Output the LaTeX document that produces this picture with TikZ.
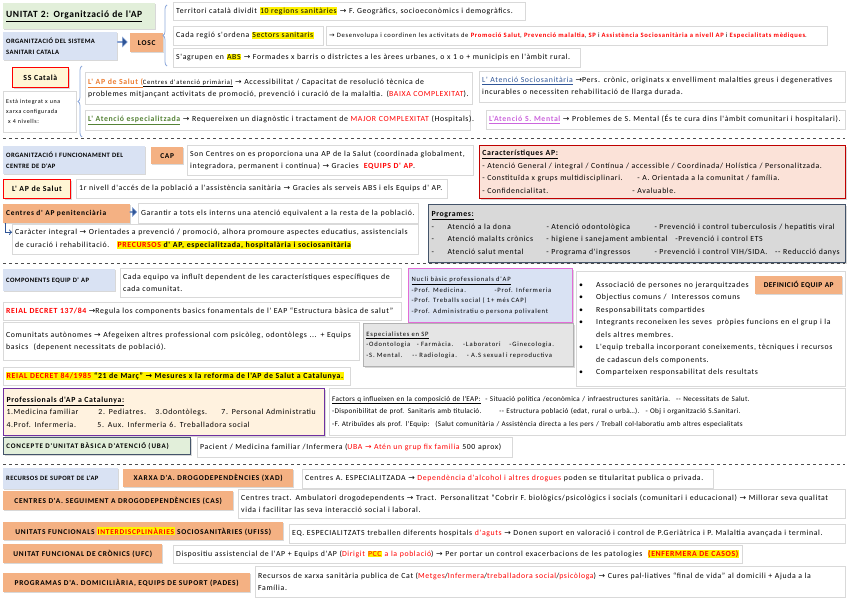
\documentclass[tikz,border=0pt]{standalone}
\usepackage{fontspec}
\setmainfont{Carlito}
\newfontfamily\symfont{DejaVu Sans}
\newfontfamily\lsmain{Carlito}[LetterSpace=8]
\newfontfamily\lswide{Carlito}[LetterSpace=10]
\newfontfamily\lscaps{Carlito}[LetterSpace=6]
\newfontfamily\lsnuc{Carlito}[LetterSpace=12]
\newfontfamily\lsfac{Carlito}[LetterSpace=4]
\usetikzlibrary{shadows,shapes.arrows,decorations.pathreplacing}

\definecolor{orangeF}{HTML}{F4B183}
\definecolor{blueF}{HTML}{D9E2F3}
\definecolor{greenF}{HTML}{E2EFDA}
\definecolor{yellowF}{HTML}{FFF6D5}
\definecolor{pinkF}{HTML}{FBE2D8}
\definecolor{grayF}{HTML}{D9D9D9}
\definecolor{slate}{HTML}{44546A}
\definecolor{darkblue}{HTML}{2F5597}
\definecolor{bracecol}{HTML}{8FAADC}
\definecolor{aporange}{HTML}{ED7D31}
\definecolor{apgreen}{HTML}{548235}
\definecolor{apblue}{HTML}{2F5597}
\definecolor{appink}{HTML}{CC66DD}
\definecolor{magentaB}{HTML}{E36CD6}
\definecolor{purpleB}{HTML}{7030A0}

\newcommand\fmain{\lsmain\fontsize{7.8}{12.5}\selectfont}
\newcommand\fsmall{\lswide\fontsize{6.6}{9}\selectfont}
\newcommand\fcap{\lscaps\fontsize{6.6}{11}\selectfont\bfseries}
\newcommand\fhdr{\lswide\fontsize{7.4}{9}\selectfont\bfseries}
\newcommand\ftiny{\lswide\fontsize{6}{10}\selectfont}
\newcommand\fnuc{\lsnuc\fontsize{6.6}{10.5}\selectfont}
\newcommand\ffac{\lsfac\fontsize{7.2}{12.5}\selectfont}
\newcommand\toarr{{\symfont →}}
\newcommand\rd[1]{\textcolor{red}{#1}}
\newcommand\hlt[1]{{\setlength{\fboxsep}{0.5pt}\colorbox{yellow}{#1}}}

\begin{document}
\begin{tikzpicture}[
    x=1pt, y=-1pt,
    box/.style={rectangle, anchor=north west, inner xsep=3pt, inner ysep=1pt, align=left, font=\fmain,
        drop shadow={shadow xshift=1.2pt, shadow yshift=-1.2pt, opacity=.3}},
    wbox/.style={box, draw=black!15, fill=white},
    obox/.style={box, fill=orangeF, font=\fhdr, align=center},
    bbox/.style={box, fill=blueF, font=\fcap},
    ybox/.style={box, fill=yellowF, draw=red, line width=.8pt, font=\fmain\bfseries, align=center},
    dims/.style 2 args={text width=#1pt, minimum height=#2pt},
    barrow/.style={single arrow, fill=darkblue, draw=bracecol, inner sep=0pt, single arrow head extend=1.5pt},
    brc/.style={decorate, decoration={brace, amplitude=4pt}, draw=bracecol, line width=.8pt},
    sep/.style={dashed, draw=black!70, line width=.6pt}
]
\fill[white] (0,0) rectangle (848,599);
\useasboundingbox (0,0) rectangle (848,599);

% --- organitzacio del sistema
\node (title) [box, fill=greenF, dims={146}{26}, font=\lscaps\fontsize{9.5}{10}\selectfont\bfseries] at (3,3) {\underline{UNITAT 2: Organització de l'AP}};
\node (orgss) [bbox, dims={108}{28}] at (3,32) {ORGANITZACIÓ DEL SISTEMA\\SANITARI CATALA};
\node (arr1) [barrow, minimum height=10pt, minimum width=10pt] at (122,42) {};
\node (losc) [obox, dims={27}{19}] at (130,33) {LOSC};
\draw[brc] (167,66) -- (167,5);

\node (terr) [wbox, dims={346}{18}] at (173,2) {\mbox{Territori català dividit \hlt{10 regions sanitàries} \toarr{} F. Geogràfics, socioeconòmics i demogràfics.}};
\node (sect) [wbox, dims={144}{19}] at (173,26) {\mbox{Cada regió s'ordena \hlt{Sectors sanitaris}}};
\node (desen) [wbox, dims={495}{19}, font=\fsmall] at (326,26) {\mbox{\toarr{} Desenvolupa i coordinen les activitats de \rd{\bfseries Promoció Salut}, \rd{\bfseries Prevenció malaltia}, \rd{\bfseries SP} i \rd{\bfseries Assistència Sociosanitària a nivell AP} i \rd{\bfseries Especialitats mèdiques}.}};
\node (abs) [wbox, dims={401}{19}] at (173,48) {\mbox{S'agrupen en \hlt{ABS} \toarr{} Formades x barris o districtes a les àrees urbanes, o x 1 o + municipis en l'àmbit rural.}};

\node (ssc) [ybox, dims={50}{20}] at (12,67) {SS Català};
\node (xarxa) [wbox, dims={67}{41}, font=\ftiny] at (3,91) {Està integrat x una\\xarxa configurada\\\ x 4 nivells:};
\draw[brc] (82,137) -- (82,66);

\node (aps) [wbox, dims={381}{32}] at (85,72) {\mbox{{\color{aporange}\bfseries\underline{L' AP de Salut (}}{\fsmall\underline{Centres d'atenció primària)}} \toarr{} Accessibilitat / Capacitat de resolució tècnica de}\\problemes mitjançant activitats de promoció, prevenció i curació de la malaltia. (\rd{BAIXA COMPLEXITAT}).};
\node (aesp) [wbox, dims={379}{20}] at (85,110) {\mbox{{\color{apgreen}\bfseries\underline{L' Atenció especialitzada}} \toarr{} Requereixen un diagnòstic i tractament de \rd{MAJOR COMPLEXITAT} (Hospitals).}};
\node (asoc) [wbox, dims={360}{31}] at (479,71) {\mbox{{\color{apblue}\underline{L' Atenció Sociosanitària}} \toarr{}Pers. crònic, originats x envelliment malalties greus i degeneratives}\\incurables o necessiten rehabilitació de llarga durada.};
\node (amen) [wbox, dims={353}{19}] at (486,110) {\mbox{{\color{appink}\bfseries\underline{L'Atenció S. Mental}} \toarr{} Problemes de S. Mental (És te cura dins l'àmbit comunitari i hospitalari).}};

\draw[sep] (3,138) -- (845,138);

% --- centre d'AP
\node (orgcap) [bbox, dims={136}{28}] at (3,146) {ORGANITZACIÓ I FUNCIONAMENT DEL\\CENTRE DE D'AP};
\node (cap) [obox, dims={26}{17}] at (151,147) {CAP};
\node (capdef) [wbox, dims={280}{30}] at (187,145) {\mbox{Son Centres on es proporciona una AP de la Salut (coordinada globalment,}\\integradora, permanent i contínua) \toarr{} Gracies \ \rd{\bfseries EQUIPS D' AP}.};
\node (aps2) [ybox, dims={61}{19}] at (3,179) {L' AP de Salut};
\node (nivell) [wbox, dims={365}{19}] at (76,179) {\mbox{1r nivell d'accés de la població a l'assistència sanitària \toarr{} Gracies als serveis ABS i els Equips d' AP.}};
\node (cpen) [obox, dims={121}{19}, align=left] at (3,204) {Centres d' AP penitenciària};
\node (arr2) [barrow, minimum height=7pt, minimum width=9pt] at (133,212) {};
\node (garan) [wbox, dims={274}{20}] at (138,203) {\mbox{Garantir a tots els interns una atenció equivalent a la resta de la població.}};
\node (carac) [wbox, dims={400}{30}] at (12,224) {\mbox{Caràcter integral \toarr{} Orientades a prevenció / promoció, alhora promoure aspectes educatius, assistencials}\\de curació i rehabilitació.\quad \hlt{\bfseries\rd{PRECURSOS} d' AP, especialitzada, hospitalària i sociosanitària}};
\draw[->, darkblue, line width=1pt] ([xshift=2pt]cpen.south west) |- ([yshift=7pt]carac.west);

\node (caract) [box, fill=pinkF, draw=red!75!black, line width=.8pt, dims={360}{53}] at (479,145) {\underline{\bfseries Característiques AP:}\\
\mbox{- Atenció General / integral / Contínua / accessible / Coordinada/ Holística / Personalitzada.}\\
\makebox[155pt][l]{- Constituïda x grups multidisciplinari.}- A. Orientada a la comunitat / família.\\
\makebox[150pt][l]{- Confidencialitat.}- Avaluable.};
\node (progr) [box, fill=grayF, draw=slate, line width=1pt, dims={411}{58}] at (428,204) {\underline{\bfseries Programes:}\\
\makebox[16pt][l]{-}\makebox[99pt][l]{Atenció a la dona}\makebox[108pt][l]{- Atenció odontològica}- Prevenció i control tuberculosis / hepatitis viral\\
\makebox[16pt][l]{-}\makebox[99pt][l]{Atenció malalts crònics}\makebox[129pt][l]{- higiene i sanejament ambiental}-Prevenció i control ETS\\
\makebox[16pt][l]{-}\makebox[99pt][l]{Atenció salut mental}\makebox[108pt][l]{- Programa d'ingressos}- Prevenció i control VIH/SIDA.\quad -- Reducció danys};

\draw[sep] (3,263) -- (845,263);

% --- equip d'AP
\node (compo) [bbox, dims={106}{22}] at (3,269) {COMPONENTS EQUIP D' AP};
\node (cada) [wbox, dims={275}{29}] at (120,268) {\mbox{Cada equipo va influït dependent de les característiques específiques de}\\cada comunitat.};
\node (nucli) [box, fill=blueF, draw=magentaB, line width=1.2pt, dims={158}{54}, font=\fnuc] at (408,268) {\underline{Nucli bàsic professionals d'AP}\\
\makebox[83pt][l]{-Prof. Medicina.}-Prof. Infermeria\\
-Prof. Treballs social ( 1+ més CAP)\\
-Prof. Administratiu o persona polivalent};
\node (rd137) [wbox, dims={392}{18}] at (3,302) {\mbox{\rd{\bfseries REIAL DECRET 137/84} \toarr{}Regula los components basics fonamentals de l' EAP “Estructura bàsica de salut”}};
\node (comun) [wbox, dims={350}{38}] at (3,322) {\mbox{Comunitats autònomes \toarr{} Afegeixen altres professional com psicòleg, odontòlegs ... + Equips}\\basics \ (depenent necessitats de població).};
\node (espec) [box, fill=black!10, draw=black!30, line width=.8pt, dims={204}{43}, font=\fnuc] at (363,323) {\underline{Especialistes en SP}\\
-Odontologia \ \ - Farmàcia. \ \ \ -Laboratori \ \ \ -Ginecologia.\\
-S. Mental. \ \ \ -- Radiologia. \ \ \ - A.S sexual i reproductiva};
\node (rd84) [wbox, dims={341}{18}] at (3,367) {\mbox{\hlt{\bfseries\rd{REIAL DECRET 84/1985} “21 de Març” \toarr{} Mesures x la reforma de l'AP de Salut a Catalunya.}}};

\node (defin) [wbox, dims={263}{115}] at (576,271) {\makebox[17pt][l]{\textbullet}Associació de persones no jerarquitzades\\
\makebox[17pt][l]{\textbullet}Objectius comuns / \ Interessos comuns\\
\makebox[17pt][l]{\textbullet}Responsabilitats compartides\\
\makebox[17pt][l]{\textbullet}\mbox{Integrants reconeixen les seves \ pròpies funcions en el grup i la}\\
\hspace*{17pt}dels altres membres.\\
\makebox[17pt][l]{\textbullet}\mbox{L'equip treballa incorporant coneixements, tècniques i recursos}\\
\hspace*{17pt}de cadascun dels components.\\
\makebox[17pt][l]{\textbullet}Comparteixen responsabilitat dels resultats};
\node (defeq) [obox, dims={81}{18}, font=\lscaps\fontsize{7.4}{9}\selectfont\bfseries] at (755,276) {DEFINICIÓ EQUIP AP};

\node (profs) [box, fill=yellowF!70!orange!30, draw=purpleB, line width=1pt, dims={315}{47}] at (3,388) {\underline{\bfseries Professionals d'AP a Catalunya:}\\
\makebox[92pt][l]{1.Medicina familiar}\makebox[57pt][l]{2. Pediatres.}\makebox[66pt][l]{3.Odontòlegs.}7. Personal Administratiu\\
\makebox[91pt][l]{4.Prof. Infermeria.}\makebox[72pt][l]{5. Aux. Infermeria}6. Treballadora social};
\node (facts) [wbox, dims={510}{47}, font=\ffac] at (329,388) {\mbox{\underline{Factors q influeixen en la composició de l'EAP:} \ - Situació política /econòmica / infraestructures sanitària. \ -- Necessitats de Salut.}\\
\mbox{-Disponibilitat de prof. Sanitaris amb titulació. \qquad -- Estructura població (edat, rural o urbà…). \ - Obj i organització S.Sanitari.}\\
\mbox{-F. Atribuïdes als prof. l'Equip: \ (Salut comunitària / Assistència directa a les pers / Treball col·laboratiu amb altres especialitats}};

\node (uba) [box, fill=greenF, draw=slate, line width=.8pt, dims={181}{17}, font=\lsnuc\fontsize{7}{8}\selectfont\bfseries] at (3,437) {\mbox{CONCEPTE D'UNITAT BÀSICA D'ATENCIÓ (UBA)}};
\node (pac) [wbox, dims={309}{20}] at (197,437) {\mbox{Pacient / Medicina familiar /Infermera (\rd{UBA \toarr{} Atén un grup fix familia} 500 aprox)}};

\draw[sep] (3,464) -- (845,464);

% --- recursos de suport
\node (recs) [bbox, dims={109}{21}] at (3,468) {RECURSOS DE SUPORT DE L'AP};
\node (xad) [obox, dims={164}{18}] at (123,469) {\mbox{XARXA D'A. DROGODEPENDÈNCIES (XAD)}};
\node (centa) [wbox, dims={405}{19}] at (302,469) {\mbox{Centres A. ESPECIALITZADA \toarr{} \rd{Dependència d'alcohol i altres drogues} poden se titularitat publica o privada.}};
\node (cas) [obox, dims={224}{19}] at (3,491) {\mbox{CENTRES D'A. SEGUIMENT A DROGODEPENDÈNCIES (CAS)}};
\node (ctract) [wbox, dims={601}{29}] at (238,489) {\mbox{Centres tract. Ambulatori drogodependents \toarr{} Tract. Personalitzat “Cobrir F. biològics/psicològics i socials (comunitari i educacional) \toarr{} Millorar seva qualitat}\\vida i facilitar las seva interacció social i laboral.};
\node (ufiss) [obox, dims={274}{18}] at (3,522) {\mbox{UNITATS FUNCIONALS \hlt{\rd{INTERDISCPLINÀRIES}} SOCIOSANITÀRIES (UFISS)}};
\node (eq) [wbox, dims={550}{19}] at (289,524) {\mbox{EQ. ESPECIALITZATS treballen diferents hospitals \rd{d'aguts} \toarr{} Donen suport en valoració i control de P.Geriàtrica i P. Malaltia avançada i terminal.}};
\node (ufc) [obox, dims={153}{19}] at (3,544) {\mbox{UNITAT FUNCIONAL DE CRÒNICS (UFC)}};
\node (disp) [wbox, dims={563}{18}] at (173,545) {\mbox{Dispositiu assistencial de l'AP + Equips d'AP (\rd{Dirigit \hlt{PCC} a la població}) \toarr{} Per portar un control exacerbacions de les patologies \ \hlt{\rd{\bfseries (ENFERMERA DE CASOS)}}}};
\node (pades) [obox, dims={241}{19}] at (3,573) {\mbox{PROGRAMAS D'A. DOMICILIÀRIA, EQUIPS DE SUPORT (PADES)}};
\node (recxs) [wbox, dims={584}{31}] at (255,566) {\mbox{Recursos de xarxa sanitària publica de Cat (\rd{Metges}/\rd{Infermera}/\rd{treballadora social}/\rd{psicòloga}) \toarr{} Cures pal·liatives “final de vida” al domicili + Ajuda a la}\\Família.};
\end{tikzpicture}
\end{document}
